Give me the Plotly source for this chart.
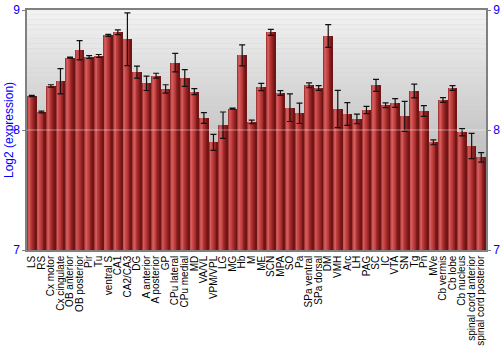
import plotly.graph_objects as go

regions = ["LS", "RS", "Cx motor", "Cx cingulate", "OB anterior", "OB posterior", "Pir", "Tu",
           "ventral S", "CA1", "CA2/CA3", "DG", "A anterior", "A posterior", "GP", "CPu lateral",
           "CPu medial", "MD", "VA/VL", "VPM/VPL", "LG", "MG", "Hb", "M", "ME", "SCN", "MPA", "SO",
           "Pa", "SPa ventral", "SPa dorsal", "DM", "VMH", "Arc", "LH", "PAG", "SC", "IC", "VTA",
           "SN", "Tg", "Pn", "MVe", "Cb vermis", "Cb lobe", "Cb nucleus",
           "spinal cord anterior", "spinal cord posterior"]
expression = [8.283, 8.15, 8.367, 8.406, 8.603, 8.664, 8.608, 8.617,
              8.789, 8.814, 8.756, 8.483, 8.389, 8.453, 8.342, 8.561,
              8.433, 8.319, 8.10, 7.897, 8.04, 8.178, 8.622, 8.067, 8.358, 8.814, 8.308, 8.186,
              8.139, 8.372, 8.35, 8.783, 8.175, 8.133, 8.092, 8.167, 8.372, 8.206, 8.225,
              8.114, 8.325, 8.158, 7.897, 8.25, 8.35, 7.981,
              7.867, 7.772]
errors = [0.005, 0.008, 0.01, 0.105, 0.005, 0.08, 0.012, 0.012,
          0.008, 0.02, 0.22, 0.05, 0.06, 0.02, 0.035, 0.077,
          0.07, 0.025, 0.045, 0.067, 0.11, 0.005, 0.087, 0.015, 0.03, 0.025, 0.02, 0.115,
          0.085, 0.02, 0.02, 0.095, 0.155, 0.095, 0.04, 0.03, 0.05, 0.02, 0.036,
          0.125, 0.058, 0.045, 0.02, 0.02, 0.02, 0.03,
          0.105, 0.04]
y_ticks = [7, 8, 9]

fig = go.Figure()

# bar with horizontal gradient built from slices
slice_colors = ["#a43636", "#c85454", "#d25c5c", "#cb4c4c", "#c04040", "#b33535",
                "#a42b2b", "#932222", "#821b1b", "#701515"]
bw = 0.9
n = len(slice_colors)
for k, c in enumerate(slice_colors):
    fig.add_trace(go.Bar(x=regions, y=expression, width=bw / n, offset=-bw / 2 + k * bw / n,
                         marker=dict(color=c, line=dict(width=0)), showlegend=False,
                         hoverinfo="skip"))

fig.add_trace(go.Scatter(x=regions, y=expression, mode="markers", yaxis="y2",
                         marker=dict(size=1, color="rgba(0,0,0,0)"),
                         error_y=dict(type="data", array=errors, color="#111111",
                                      thickness=1.2, width=3),
                         showlegend=False))

# gradient background
shapes = []
N = 50
for i in range(N):
    t = i / (N - 1)
    v = int(242 - (242 - 160) * t)
    shapes.append(dict(type="rect", xref="paper", yref="paper", x0=0, x1=1,
                       y1=1 - i / N, y0=1 - (i + 1) / N, layer="below",
                       fillcolor=f"rgb({v},{v},{v})", line=dict(width=0)))
shapes.append(dict(type="line", xref="paper", yref="y", x0=0, x1=1, y0=8, y1=8,
                   layer="above", line=dict(color="rgba(255,255,255,0.45)", width=1)))
fig.update_layout(shapes=shapes)

axis_font = dict(family="Liberation Sans, Arial", size=12, color="#0000ff")
fig.update_layout(
    width=500, height=350,
    margin=dict(l=27, r=14, t=10, b=100, autoexpand=False),
    paper_bgcolor="white", plot_bgcolor="#d0d0d0",
    barmode="overlay", bargap=0,
    font=dict(family="Liberation Sans, Arial", size=10, color="black"),
    xaxis=dict(type="category", tickmode="array", tickvals=regions, ticktext=regions,
               range=[-0.5, len(regions) - 0.5],
               tickangle=-90, tickfont=dict(size=10, color="black"),
               showline=True, linecolor="#808080", linewidth=1.5, mirror=True,
               ticks="", showgrid=False, automargin=False),
    yaxis=dict(range=[7, 9], tickvals=y_ticks, tickfont=axis_font, ticks="outside",
               ticklen=3, tickcolor="#808080", showgrid=False, zeroline=False,
               showline=True, linecolor="#808080", linewidth=1.5, automargin=False),
    yaxis2=dict(range=[7, 9], tickvals=y_ticks, tickfont=axis_font, overlaying="y",
                side="right", ticks="outside", ticklen=3, tickcolor="#808080",
                showgrid=False, zeroline=False, showline=True, linecolor="#808080",
                linewidth=1.5, automargin=False),
    annotations=[dict(text="Log2 (expression)", xref="paper", yref="paper",
                      x=-18 / 459, y=0.5, xanchor="center", yanchor="middle",
                      textangle=-90, showarrow=False,
                      font=dict(family="Liberation Sans, Arial", size=12, color="#0000ff"))],
)

fig.write_html("out.html")
